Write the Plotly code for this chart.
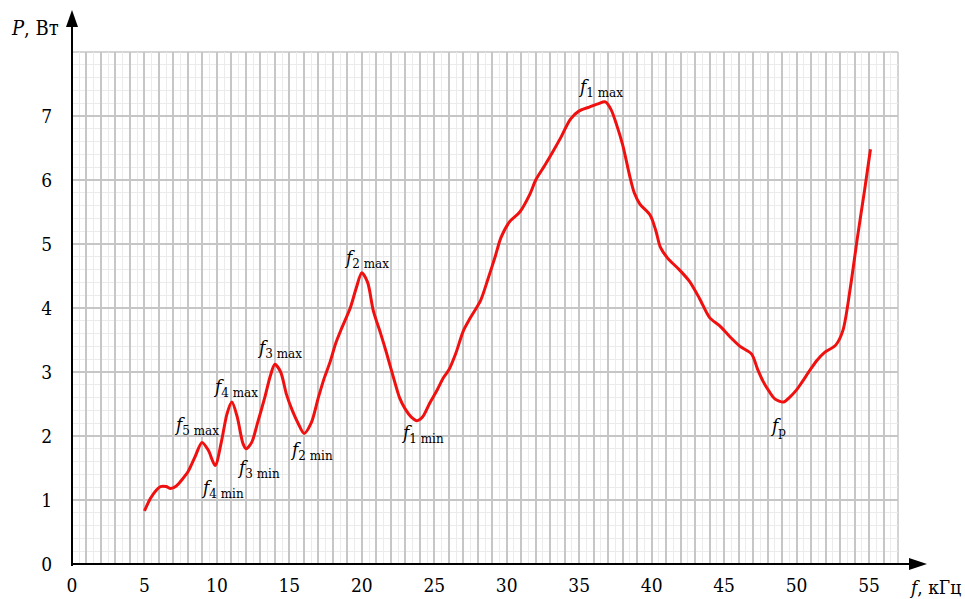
import plotly.graph_objects as go

# Power vs frequency measurements
freq_khz = [5.0, 5.4, 5.8, 6.1, 6.5, 6.8, 7.2, 7.6, 8.0, 8.5, 8.97, 9.4, 9.88, 10.3, 10.7,
            11.03, 11.4, 11.8, 12.02, 12.4, 12.8, 13.3, 13.7, 14.0, 14.4, 14.8, 15.2, 15.6,
            16.02, 16.5, 17.0, 17.4, 17.8, 18.2, 18.6, 19.2, 19.6, 20.0, 20.4, 20.8, 21.3,
            21.7, 22.2, 22.6, 23.0, 23.4, 23.8, 24.2, 24.7, 25.2, 25.6, 26.0, 26.5, 27.0,
            27.5, 28.2, 28.7, 29.2, 29.6, 30.2, 30.9, 31.6, 32.0, 32.6, 33.2, 33.7, 34.4,
            35.0, 35.7, 36.3, 36.8, 37.2, 37.6, 38.0, 38.5, 38.8, 39.2, 39.9, 40.3, 40.6,
            41.1, 41.9, 42.6, 43.3, 44.0, 44.7, 45.4, 46.1, 46.9, 47.3, 47.7, 48.1, 48.5,
            49.1, 49.5, 50.0, 50.4, 50.9, 51.4, 51.9, 52.7, 53.2, 53.7, 54.2, 54.7, 55.1]
power_w = [0.83, 1.02, 1.15, 1.21, 1.21, 1.18, 1.22, 1.32, 1.44, 1.68, 1.90, 1.78, 1.54, 1.90,
           2.35, 2.53, 2.30, 1.88, 1.80, 1.90, 2.20, 2.60, 2.95, 3.12, 3.00, 2.65, 2.40, 2.20,
           2.04, 2.20, 2.60, 2.90, 3.15, 3.45, 3.68, 4.00, 4.30, 4.55, 4.40, 3.95, 3.60, 3.30,
           2.90, 2.60, 2.42, 2.30, 2.24, 2.30, 2.52, 2.72, 2.90, 3.03, 3.30, 3.64, 3.85, 4.12,
           4.45, 4.80, 5.10, 5.35, 5.50, 5.78, 6.00, 6.22, 6.45, 6.65, 6.95, 7.08, 7.14, 7.19,
           7.22, 7.10, 6.85, 6.55, 6.05, 5.80, 5.62, 5.45, 5.20, 4.95, 4.78, 4.60, 4.42, 4.15,
           3.85, 3.72, 3.55, 3.40, 3.28, 3.05, 2.85, 2.70, 2.58, 2.53, 2.60, 2.72, 2.85, 3.02,
           3.18, 3.30, 3.42, 3.65, 4.30, 5.10, 5.85, 6.48]

# Characteristic frequency labels
point_labels = ["<i>f</i><sub>1 max</sub>", "<i>f</i><sub>2 max</sub>", "<i>f</i><sub>3 max</sub>",
                "<i>f</i><sub>4 max</sub>", "<i>f</i><sub>5 max</sub>", "<i>f</i><sub>4 min</sub>",
                "<i>f</i><sub>3 min</sub>", "<i>f</i><sub>2 min</sub>", "<i>f</i><sub>1 min</sub>",
                "<i>f</i><sub>р</sub>"]
label_f = [36.5, 20.3, 14.3, 11.3, 8.6, 10.4, 12.9, 16.5, 24.2, 48.7]
label_p = [7.45, 4.77, 3.36, 2.76, 2.17, 1.18, 1.50, 1.78, 2.04, 2.15]

x_ticks = list(range(0, 60, 5))
y_ticks = list(range(0, 8))

X_MAX = 57
Y_MAX = 8
FONT = "DejaVu Serif Condensed, DejaVu Serif"

fig = go.Figure()

# invisible trace carrying the grid axis
fig.add_trace(go.Scatter(x=[0, X_MAX], y=[0, Y_MAX], xaxis="x2", yaxis="y2",
                         mode="markers", marker=dict(opacity=0), hoverinfo="skip",
                         showlegend=False))

fig.add_trace(go.Scatter(x=freq_khz, y=power_w, mode="lines",
                         line=dict(color="#f01010", width=3, shape="spline", smoothing=0.8),
                         showlegend=False))

for txt, xf, yp in zip(point_labels, label_f, label_p):
    fig.add_annotation(x=xf, y=yp, text=txt, showarrow=False,
                       font=dict(family=FONT, size=19, color="black"))

grid_major = "#c6c6c6"
grid_minor = "#ebebeb"

fig.update_layout(
    width=965, height=599,
    margin=dict(l=72, r=67, t=52, b=35),
    plot_bgcolor="white", paper_bgcolor="white",
    font=dict(family=FONT, size=19, color="black"),
    xaxis=dict(range=[0, X_MAX], tickvals=x_ticks, showgrid=False, zeroline=False,
               showline=False, ticks="", ticklabelstandoff=8, automargin=False,
               tickfont=dict(family=FONT, size=19)),
    yaxis=dict(range=[0, Y_MAX], tickvals=y_ticks, showgrid=False, zeroline=False,
               showline=False, ticks="", ticklabelstandoff=19, automargin=False,
               tickfont=dict(family=FONT, size=19)),
    xaxis2=dict(range=[0, X_MAX], overlaying="x", anchor="y2", dtick=1, tick0=0,
                showgrid=True, gridcolor=grid_major, gridwidth=1.5, automargin=False,
                minor=dict(dtick=0.5, tick0=0, showgrid=True, gridcolor=grid_minor, gridwidth=1),
                showticklabels=False, zeroline=False, ticks=""),
    yaxis2=dict(range=[0, Y_MAX], overlaying="y", anchor="x2", dtick=1, tick0=0,
                showgrid=True, gridcolor=grid_major, gridwidth=1.5, automargin=False,
                minor=dict(dtick=0.2, tick0=0, showgrid=True, gridcolor=grid_minor, gridwidth=1),
                showticklabels=False, zeroline=False, ticks=""),
)

# gray frame on top and right edges of the grid
fig.add_shape(type="line", xref="paper", yref="paper", x0=0, x1=1, y0=1, y1=1,
              line=dict(color=grid_major, width=1.5), layer="below")
fig.add_shape(type="line", xref="paper", yref="paper", x0=1, x1=1, y0=0, y1=1,
              line=dict(color=grid_major, width=1.5), layer="below")

# axes with arrowheads (paper coordinates; plot area is 826 x 512 px)
PW, PH = 826.0, 512.0
ytip = (564 - 10) / PH
ybase = (564 - 27) / PH
hw_x = 6 / PW
fig.add_shape(type="line", xref="paper", yref="paper", x0=0, x1=0, y0=-2 / PH, y1=ybase,
              line=dict(color="black", width=2))
fig.add_shape(type="path", xref="paper", yref="paper",
              path=f"M {-hw_x} {ybase} L 0 {ytip} L {hw_x} {ybase} Z",
              fillcolor="black", line=dict(color="black", width=0))

xtip = (927 - 72) / PW
xbase = (909 - 72) / PW
hw_y = 6 / PH
fig.add_shape(type="line", xref="paper", yref="paper", x0=-1 / PW, x1=xbase, y0=0, y1=0,
              line=dict(color="black", width=2))
fig.add_shape(type="path", xref="paper", yref="paper",
              path=f"M {xbase} {-hw_y} L {xtip} 0 L {xbase} {hw_y} Z",
              fillcolor="black", line=dict(color="black", width=0))

# axis titles
fig.add_annotation(xref="paper", yref="paper", x=(35 - 72) / PW, y=(564 - 28) / PH,
                   text="<i>P</i>, Вт", showarrow=False, xanchor="center", yanchor="middle",
                   font=dict(family=FONT, size=20, color="black"))
fig.add_annotation(xref="paper", yref="paper", x=(935 - 72) / PW, y=(564 - 587) / PH,
                   text="<i>f</i>, кГц", showarrow=False, xanchor="center", yanchor="middle",
                   font=dict(family=FONT, size=19, color="black"))

fig.write_html("out.html")
